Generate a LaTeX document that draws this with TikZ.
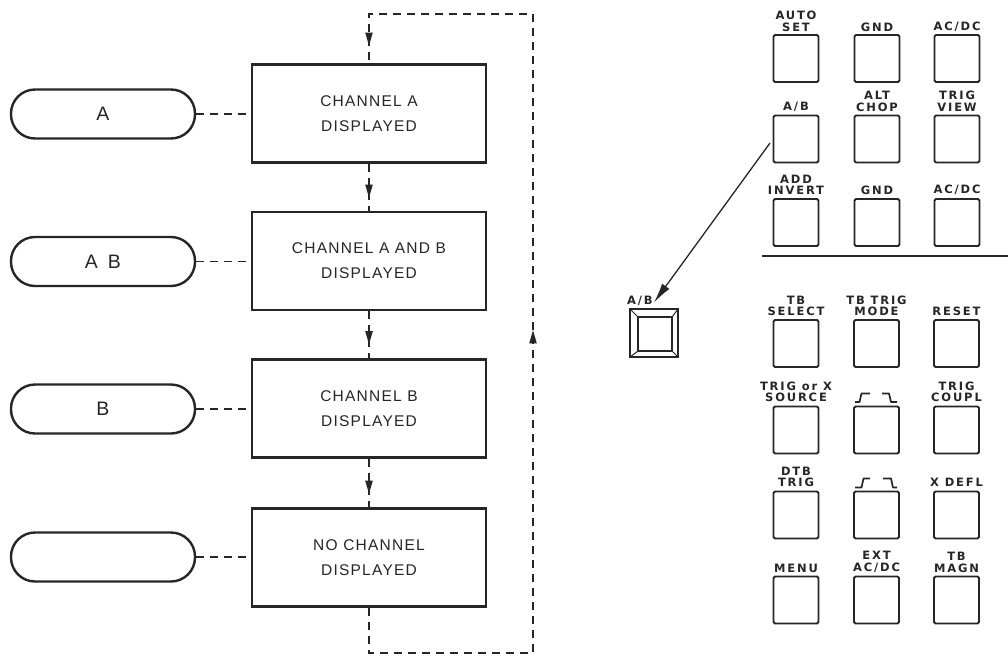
\documentclass[tikz,border=0pt]{standalone}
\usepackage{fontspec}
\setmainfont{Liberation Sans}
\newfontfamily\boxfont{Liberation Sans}[LetterSpace=8]
\newfontfamily\panelfont{DejaVu Sans}[LetterSpace=16]
\usetikzlibrary{arrows.meta,decorations.markings,calc}
\definecolor{inkc}{HTML}{262626}
\begin{document}
\begin{tikzpicture}[x=1pt,y=-1pt,
  flowbox/.style={draw=inkc, line width=2.2pt, minimum width=234pt, minimum height=98pt,
    align=center, text=inkc, font=\boxfont\fontsize{15.5}{25}\selectfont},
  pill/.style={draw=inkc, line width=2.4pt, rounded corners=24pt, minimum width=184pt,
    minimum height=49pt, text=inkc, font=\fontsize{19.5}{23}\selectfont},
  dashline/.style={draw=inkc, line width=1.5pt, dash pattern=on 8pt off 6pt},
  arrowat/.style={postaction={decorate}, decoration={markings,
    mark=at position #1 with {\fill[inkc] (0,0) -- (-13,3.8) -- (-13,-3.8) -- cycle;}}},
  key/.style={draw=inkc, line width=1.9pt, rounded corners=1.5pt, minimum width=45pt,
    minimum height=47pt, inner sep=0pt, outer sep=0pt},
  keylab/.style={font=\panelfont\bfseries\fontsize{11.5}{11.5}\selectfont, align=center,
    anchor=south, inner sep=0pt, text=inkc},
  pulse/.style={draw=inkc, line width=1.7pt, line join=round}
]
\useasboundingbox (0,0) rectangle (1008,656);
\fill[white] (0,0) rectangle (1008,656);

% ---------- flow chart ----------
\node[flowbox] (n1) at (369,113.5) {CHANNEL A\\DISPLAYED};
\node[flowbox] (n2) at (369,261) {CHANNEL A AND B\\DISPLAYED};
\node[flowbox] (n3) at (369,408.5) {CHANNEL B\\DISPLAYED};
\node[flowbox] (n4) at (369,557.5) {NO CHANNEL\\DISPLAYED};

\node[pill] (p1) at (103,114) {A};
\node[pill] (p2) at (103,261.5) {A\hspace{10pt}B};
\node[pill] (p3) at (103,409) {B};
\node[pill] (p4) at (103,557) {};

\draw[dashline] (p1.east) -- (n1.west |- p1.east);
\draw[dashline] (p2.east) -- (n2.west |- p2.east);
\draw[dashline] (p3.east) -- (n3.west |- p3.east);
\draw[dashline] (p4.east) -- (n4.west |- p4.east);

\draw[dashline] (n1.south) -- (n2.north);
\draw[dashline] (n2.south) -- (n3.north);
\draw[dashline] (n3.south) -- (n4.north);
\path[arrowat=0.72] (n1.south) -- (n2.north);
\path[arrowat=0.70] (n2.south) -- (n3.north);
\path[arrowat=0.72] (n3.south) -- (n4.north);

\coordinate (bl) at (369,653);
\coordinate (br) at (533,653);
\coordinate (tr) at (533,14);
\coordinate (tl) at (369,14);
\draw[dashline] (n4.south) -- (bl) -- (br) -- (tr) -- (tl) -- (n1.north);
\path[arrowat=0.505] (br) -- (tr);
\path[arrowat=0.64] (tl) -- (n1.north);

% ---------- upper key group ----------
\foreach \r/\yy in {1/58.5,2/139,3/222.5}{
  \foreach \c/\xx in {1/796,2/877,3/957}{
    \node[key] (k\r\c) at (\xx,\yy) {};
  }
}
\node[keylab] at ($(k11.north)+(0,-3.5)$) {AUTO\\SET};
\node[keylab] at ($(k12.north)+(0,-3.5)$) {GND};
\node[keylab] at ($(k13.north)+(0,-3.5)$) {AC/DC};
\node[keylab] at ($(k21.north)+(0,-4)$) {A/B};
\node[keylab] at ($(k22.north)+(0,-4)$) {ALT\\CHOP};
\node[keylab] at ($(k23.north)+(0,-4)$) {TRIG\\VIEW};
\node[keylab] at ($(k31.north)+(0,-4)$) {ADD\\INVERT};
\node[keylab] at ($(k32.north)+(0,-4)$) {GND};
\node[keylab] at ($(k33.north)+(0,-4)$) {AC/DC};

\coordinate (sepL) at (762,256);
\coordinate (sepR) at (1008,256);
\draw[inkc, line width=1.3pt] (sepL) -- (sepR);

% ---------- lower key group ----------
\foreach \r/\yy in {1/343.5,2/430,3/515,4/600}{
  \foreach \c/\xx in {1/796,2/876.5,3/956.5}{
    \node[key] (m\r\c) at (\xx,\yy) {};
  }
}
\node[keylab] at ($(m11.north)+(0,-4)$) {TB\\SELECT};
\node[keylab] at ($(m12.north)+(0,-4)$) {TB TRIG\\MODE};
\node[keylab] at ($(m13.north)+(0,-4)$) {RESET};
\node[keylab] at ($(m21.north)+(0,-4.5)$) {TRIG or X\\SOURCE};
\node[keylab] at ($(m23.north)+(0,-4.5)$) {TRIG\\COUPL};
\node[keylab] at ($(m31.north)+(0,-4.5)$) {DTB\\TRIG};
\node[keylab] at ($(m33.north)+(0,-4.5)$) {X DEFL};
\node[keylab] at ($(m41.north)+(0,-4)$) {MENU};
\node[keylab] at ($(m42.north)+(0,-4)$) {EXT\\AC/DC};
\node[keylab] at ($(m43.north)+(0,-4)$) {TB\\MAGN};

% pulse symbols
\draw[pulse] (855,402) -- (859.5,402) -- (861.5,393.5) -- (870,393.5);
\draw[pulse] (882,393.5) -- (889,393.5) -- (891,402) -- (897,402);
\draw[pulse] (855,487.5) -- (861.5,487.5) -- (863.5,478.5) -- (870,478.5);
\draw[pulse] (883,478.5) -- (891,478.5) -- (893,487.5) -- (897,487.5);

% ---------- enlarged A/B key ----------
\node[draw=inkc, line width=2.6pt, minimum size=48pt, inner sep=0pt, outer sep=0pt] (bigab) at (654,333) {};
\node[draw=inkc, line width=1.5pt, minimum size=34pt, inner sep=0pt, outer sep=0pt] (bigin) at (655,334) {};
\draw[inkc, line width=1pt] (bigab.north west) -- (bigin.north west);
\draw[inkc, line width=1pt] (bigab.north east) -- (bigin.north east);
\draw[inkc, line width=1pt] (bigab.south west) -- (bigin.south west);
\draw[inkc, line width=1pt] (bigab.south east) -- (bigin.south east);
\node[keylab, anchor=south west] (biglab) at (627,305.5) {A/B};

\coordinate (arrS) at (770,143);
\coordinate (arrE) at ($(biglab.south east)+(1,-3)$);
\draw[inkc, line width=1.3pt, -{Latex[length=20pt,width=9pt]}] (arrS) -- (arrE);
\end{tikzpicture}
\end{document}
